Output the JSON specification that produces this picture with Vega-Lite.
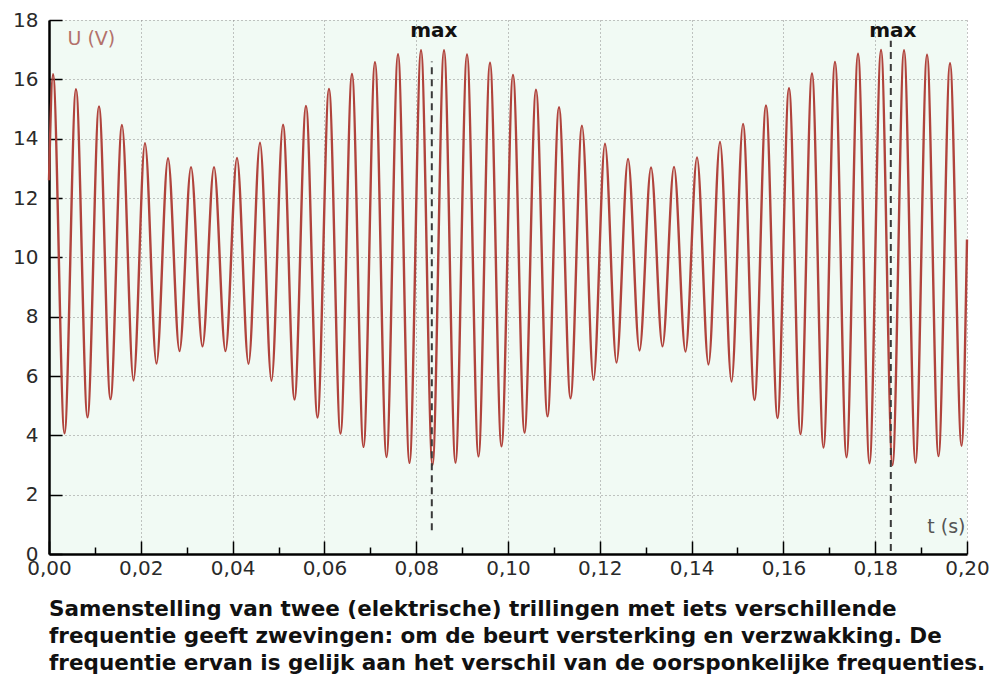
{
  "$schema": "https://vega.github.io/schema/vega-lite/v6.json",
  "width": 918,
  "height": 534,
  "autosize": {"type": "none"},
  "padding": {"left": 49, "top": 20, "right": 25, "bottom": 130},
  "background": "#ffffff",
  "config": {
    "view": {"fill": "#f1faf4", "stroke": null},
    "font": "DejaVu Sans"
  },
  "title": {
    "text": [
      "Samenstelling van twee (elektrische) trillingen met iets verschillende",
      "frequentie geeft zwevingen: om de beurt versterking en verzwakking. De",
      "frequentie ervan is gelijk aan het verschil van de oorsponkelijke frequenties."
    ],
    "orient": "bottom",
    "anchor": "start",
    "frame": "group",
    "font": "DejaVu Sans",
    "fontWeight": "bold",
    "fontSize": 21.5,
    "lineHeight": 27,
    "color": "#111111",
    "offset": 15
  },
  "datasets": {
    "wave": [
      {"t": 0, "u": 12.6},
      {"t": 0.00087, "u": 16.17}, {"t": 0.00338, "u": 4.07},
      {"t": 0.00588, "u": 15.67}, {"t": 0.00839, "u": 4.61},
      {"t": 0.01089, "u": 15.09}, {"t": 0.0134, "u": 5.22},
      {"t": 0.0159, "u": 14.46}, {"t": 0.01841, "u": 5.85},
      {"t": 0.02091, "u": 13.85}, {"t": 0.02342, "u": 6.42},
      {"t": 0.02593, "u": 13.34}, {"t": 0.02843, "u": 6.84},
      {"t": 0.03094, "u": 13.04}, {"t": 0.03344, "u": 7.0},
      {"t": 0.03595, "u": 13.04}, {"t": 0.03845, "u": 6.84},
      {"t": 0.04096, "u": 13.35}, {"t": 0.04347, "u": 6.41},
      {"t": 0.04597, "u": 13.86}, {"t": 0.04848, "u": 5.84},
      {"t": 0.05098, "u": 14.47}, {"t": 0.05349, "u": 5.21},
      {"t": 0.05599, "u": 15.1}, {"t": 0.0585, "u": 4.6},
      {"t": 0.061, "u": 15.68}, {"t": 0.06351, "u": 4.06},
      {"t": 0.06601, "u": 16.18}, {"t": 0.06852, "u": 3.61},
      {"t": 0.07102, "u": 16.58}, {"t": 0.07353, "u": 3.27},
      {"t": 0.07604, "u": 16.85}, {"t": 0.07854, "u": 3.07},
      {"t": 0.08105, "u": 16.98}, {"t": 0.08355, "u": 3.0},
      {"t": 0.08606, "u": 16.98}, {"t": 0.08856, "u": 3.08},
      {"t": 0.09107, "u": 16.84}, {"t": 0.09357, "u": 3.29},
      {"t": 0.09608, "u": 16.56}, {"t": 0.09858, "u": 3.63},
      {"t": 0.10109, "u": 16.15}, {"t": 0.1036, "u": 4.09},
      {"t": 0.1061, "u": 15.65}, {"t": 0.10861, "u": 4.64},
      {"t": 0.11111, "u": 15.06}, {"t": 0.11362, "u": 5.25},
      {"t": 0.11612, "u": 14.44}, {"t": 0.11863, "u": 5.87},
      {"t": 0.12113, "u": 13.83}, {"t": 0.12364, "u": 6.45},
      {"t": 0.12615, "u": 13.32}, {"t": 0.12865, "u": 6.86},
      {"t": 0.13116, "u": 13.03}, {"t": 0.13366, "u": 7.0},
      {"t": 0.13617, "u": 13.05}, {"t": 0.13867, "u": 6.82},
      {"t": 0.14118, "u": 13.37}, {"t": 0.14368, "u": 6.39},
      {"t": 0.14619, "u": 13.89}, {"t": 0.1487, "u": 5.81},
      {"t": 0.1512, "u": 14.5}, {"t": 0.15371, "u": 5.19},
      {"t": 0.15621, "u": 15.12}, {"t": 0.15872, "u": 4.58},
      {"t": 0.16122, "u": 15.7}, {"t": 0.16373, "u": 4.04},
      {"t": 0.16623, "u": 16.2}, {"t": 0.16874, "u": 3.59},
      {"t": 0.17124, "u": 16.59}, {"t": 0.17375, "u": 3.26},
      {"t": 0.17626, "u": 16.86}, {"t": 0.17876, "u": 3.06},
      {"t": 0.18127, "u": 16.99}, {"t": 0.18377, "u": 3.0},
      {"t": 0.18628, "u": 16.98}, {"t": 0.18878, "u": 3.08},
      {"t": 0.19129, "u": 16.83}, {"t": 0.19379, "u": 3.3},
      {"t": 0.1963, "u": 16.54}, {"t": 0.19881, "u": 3.65},
      {"t": 0.2, "u": 10.6}
    ],
    "max": [
      {"t": 0.0834, "lo": 0.8, "hi": 16.6, "label": "max"},
      {"t": 0.1834, "lo": 0.1, "hi": 17.3, "label": "max"}
    ]
  },
  "layer": [
    {
      "data": {"name": "wave"},
      "mark": {"type": "line", "interpolate": "monotone", "color": "#b0433c", "strokeWidth": 2.4},
      "encoding": {
        "x": {
          "field": "t",
          "type": "quantitative",
          "scale": {"domain": [0, 0.2], "nice": false, "zero": false},
          "axis": {
            "values": [0, 0.005, 0.01, 0.015, 0.02, 0.025, 0.03, 0.035, 0.04, 0.045, 0.05, 0.055, 0.06, 0.065, 0.07, 0.075, 0.08, 0.085, 0.09, 0.095, 0.1, 0.105, 0.11, 0.115, 0.12, 0.125, 0.13, 0.135, 0.14, 0.145, 0.15, 0.155, 0.16, 0.165, 0.17, 0.175, 0.18, 0.185, 0.19, 0.195, 0.2],
            "labelExpr": "round(datum.value * 1000) % 20 == 0 ? replace(format(datum.value, '.2f'), '.', ',') : ''",
            "labelFont": "DejaVu Sans",
            "labelFontSize": 20,
            "labelColor": "#2a2a2a",
            "labelPadding": 17,
            "labelOverlap": false,
            "labelFlush": false,
            "domainColor": "#000000",
            "domainWidth": 2.5,
            "tickColor": "#000000",
            "tickWidth": 1.5,
            "tickSize": {"condition": {"test": "round(datum.value * 1000) % 20 == 0", "value": -13}, "value": -7},
            "grid": true,
            "gridColor": "#8a8a8a",
            "gridDash": [1, 3],
            "gridWidth": 1,
            "gridOpacity": {"condition": {"test": "round(datum.value * 1000) % 20 == 0", "value": 1}, "value": 0},
            "title": "t (s)",
            "titleFont": "DejaVu Sans",
            "titleFontSize": 19,
            "titleFontWeight": "normal",
            "titleColor": "#555555",
            "titleAlign": "right",
            "titleBaseline": "alphabetic",
            "titleX": 916,
            "titleY": -22
          }
        },
        "y": {
          "field": "u",
          "type": "quantitative",
          "scale": {"domain": [0, 18], "nice": false, "zero": true},
          "axis": {
            "values": [0, 0.5, 1, 1.5, 2, 2.5, 3, 3.5, 4, 4.5, 5, 5.5, 6, 6.5, 7, 7.5, 8, 8.5, 9, 9.5, 10, 10.5, 11, 11.5, 12, 12.5, 13, 13.5, 14, 14.5, 15, 15.5, 16, 16.5, 17, 17.5, 18],
            "labelExpr": "round(datum.value * 10) % 20 == 0 ? format(datum.value, 'd') : ''",
            "labelFont": "DejaVu Sans",
            "labelFontSize": 20,
            "labelColor": "#2a2a2a",
            "labelPadding": 24,
            "labelOverlap": false,
            "labelFlush": false,
            "domainColor": "#000000",
            "domainWidth": 2.5,
            "tickColor": "#000000",
            "tickWidth": 1.5,
            "tickSize": {"condition": {"test": "round(datum.value * 10) % 20 == 0", "value": -13}, "value": -7},
            "grid": true,
            "gridColor": "#8a8a8a",
            "gridDash": [1, 3],
            "gridWidth": 1,
            "gridOpacity": {"condition": {"test": "round(datum.value * 10) % 20 == 0", "value": 1}, "value": 0},
            "title": "U (V)",
            "titleFont": "DejaVu Sans",
            "titleFontSize": 19,
            "titleFontWeight": "normal",
            "titleColor": "#b3716b",
            "titleAngle": 0,
            "titleAlign": "left",
            "titleBaseline": "alphabetic",
            "titleX": 18,
            "titleY": 24
          }
        }
      }
    },
    {
      "data": {"name": "max"},
      "mark": {"type": "rule", "strokeDash": [7, 5], "strokeWidth": 2, "color": "#3a3a3a"},
      "encoding": {
        "x": {"field": "t", "type": "quantitative"},
        "y": {"field": "lo", "type": "quantitative"},
        "y2": {"field": "hi"}
      }
    },
    {
      "data": {"name": "max"},
      "mark": {"type": "text", "font": "DejaVu Sans", "fontWeight": "bold", "fontSize": 20, "color": "#111111", "baseline": "alphabetic", "align": "center", "dx": 2},
      "encoding": {
        "x": {"field": "t", "type": "quantitative"},
        "y": {"datum": 17.43},
        "text": {"field": "label"}
      }
    }
  ]
}
